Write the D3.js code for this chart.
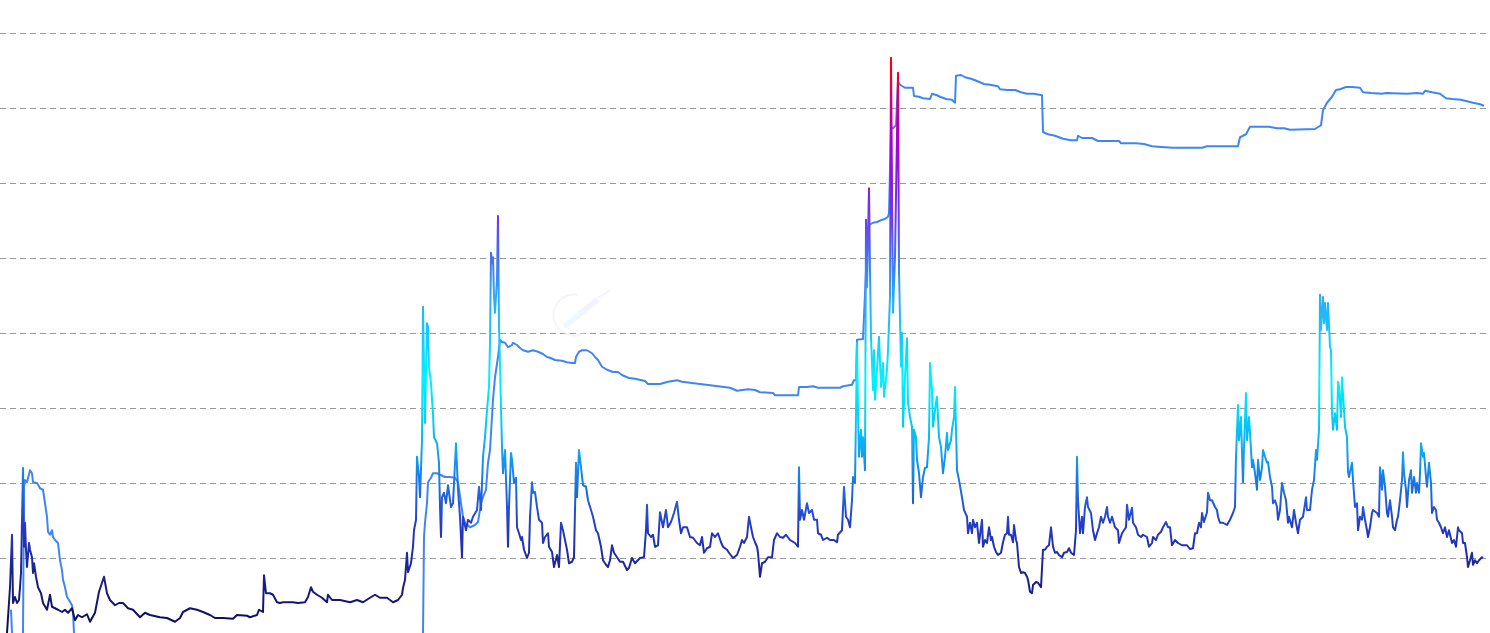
<!DOCTYPE html>
<html><head><meta charset="utf-8">
<script src="https://cdn.jsdelivr.net/npm/d3@7"></script>
<style>html,body{margin:0;padding:0;background:#fff;} svg{display:block;}</style>
</head><body>
<svg id="chart" width="1490" height="633"></svg>
<script>
// ---- data (day index, value) ----
const volatility = [[0,0],[3,6.1],[5,13.1],[6,4.0],[8,4.8],[10,4.0],[12,4.4],[13,6.1],[14,8.0],[16,22.0],[17,11.5],[18,14.7],[19,11.1],[20,8.8],[22,12.0],[23,11.1],[25,10.1],[26,8.0],[27,9.3],[29,7.5],[31,6.1],[34,5.3],[36,4.0],[40,3.1],[43,5.1],[45,3.5],[48,3.3],[51,3.1],[55,2.8],[58,3.1],[61,2.7],[65,3.3],[68,1.7],[71,2.4],[75,2.1],[80,2.5],[83,1.5],[88,2.7],[92,5.5],[97,7.5],[100,5.3],[103,4.4],[108,3.7],[112,4.0],[116,4.0],[121,3.3],[126,3.1],[133,2.1],[138,2.7],[143,2.4],[153,2.1],[160,2.0],[168,1.5],[173,2.0],[176,2.8],[183,3.3],[190,3.1],[196,2.8],[203,2.4],[208,2.0],[216,2.0],[226,1.9],[230,2.4],[240,2.3],[243,2.1],[250,2.4],[252,3.1],[256,2.8],[257,7.7],[259,5.3],[263,5.3],[266,5.1],[270,4.1],[273,4.0],[276,4.1],[281,4.1],[286,4.1],[291,4.0],[298,4.1],[301,4.8],[304,6.1],[306,5.5],[310,5.1],[315,4.7],[320,4.1],[321,5.1],[325,4.4],[333,4.4],[343,4.1],[350,4.4],[356,4.1],[363,4.7],[368,5.1],[373,4.7],[380,4.7],[386,4.1],[391,4.4],[395,5.1],[396,6.0],[398,7.1],[400,10.7],[401,8.1],[404,9.3],[406,11.5],[407,13.7],[409,15.1],[410,23.5],[412,20.8],[413,18.1],[415,25.7],[416,43.5],[418,28.0],[420,41.3],[421,40.8],[422,35.5],[424,33.3],[425,31.1],[426,29.3],[427,26.1],[430,25.3],[432,22.7],[433,16.8],[434,12.8],[435,18.1],[437,18.7],[439,17.3],[441,19.7],[444,16.8],[446,17.3],[449,25.3],[451,19.1],[453,15.5],[455,10.1],[456,15.5],[459,13.7],[461,15.1],[464,14.7],[466,15.5],[470,16.4],[472,19.5],[474,16.4],[476,23.5],[478,26.1],[480,29.7],[482,32.8],[483,38.7],[484,50.7],[485,49.3],[486,50.1],[487,44.8],[488,42.7],[490,47.1],[491,55.6],[492,40.8],[493,35.5],[494,30.1],[495,24.8],[496,21.3],[498,24.4],[500,16.8],[501,11.5],[502,16.8],[504,24.0],[505,23.1],[507,20.0],[509,20.7],[510,14.1],[512,13.3],[514,12.4],[515,12.8],[517,11.1],[520,10.0],[522,10.7],[523,15.5],[525,20.1],[526,18.7],[528,18.8],[530,16.8],[532,15.1],[535,14.7],[536,12.0],[538,12.8],[541,13.3],[542,11.5],[545,10.8],[547,8.8],[550,10.4],[552,8.8],[554,14.7],[556,13.7],[558,12.4],[560,11.1],[562,9.3],[565,9.5],[567,10.1],[569,22.7],[570,18.1],[572,24.4],[574,22.1],[576,19.7],[579,19.5],[581,17.7],[584,16.4],[586,15.5],[589,13.7],[591,13.3],[594,11.5],[596,9.7],[599,9.1],[601,8.8],[603,9.7],[605,11.7],[607,10.7],[610,10.1],[613,9.5],[616,9.5],[620,8.4],[622,8.7],[625,10.0],[628,9.3],[633,10.0],[637,10.1],[639,13.7],[640,17.1],[641,13.3],[644,12.8],[646,13.1],[648,11.5],[651,11.7],[653,16.1],[656,14.1],[659,16.4],[661,14.1],[664,14.8],[667,16.0],[670,17.5],[672,15.1],[674,13.3],[676,14.1],[680,14.1],[683,12.8],[686,12.7],[690,12.0],[693,11.7],[695,12.8],[697,10.7],[700,11.3],[703,11.5],[705,13.3],[708,12.8],[711,13.3],[714,12.1],[716,11.5],[720,11.1],[722,10.7],[726,10.0],[730,10.4],[733,11.5],[735,12.4],[737,12.0],[740,12.8],[742,15.5],[744,14.1],[746,12.8],[748,12.1],[750,11.5],[751,10.7],[753,7.5],[755,9.3],[758,9.5],[761,10.1],[765,10.1],[767,12.4],[770,13.3],[773,12.8],[776,12.7],[779,13.1],[783,12.4],[788,12.0],[791,11.5],[792,22.1],[793,15.1],[795,16.4],[797,15.1],[800,17.3],[802,16.0],[805,16.4],[807,15.1],[810,15.1],[811,13.3],[814,13.1],[816,12.4],[820,12.7],[823,12.4],[827,12.4],[830,12.1],[831,13.1],[835,13.7],[837,19.5],[839,15.5],[841,15.1],[843,14.1],[845,17.7],[846,20.8],[848,20.0],[850,38.7],[851,29.7],[852,23.5],[854,27.1],[855,23.5],[856,26.1],[858,21.7],[859,55.1],[860,46.1],[862,59.3],[863,48.4],[864,39.5],[866,32.4],[867,37.7],[868,31.1],[870,35.1],[872,39.5],[874,32.8],[876,36.0],[877,31.5],[880,35.1],[881,37.7],[883,44.8],[884,76.7],[886,42.7],[888,50.1],[891,74.7],[892,48.4],[894,35.5],[895,40.0],[896,27.5],[898,34.1],[900,39.3],[901,30.7],[903,28.8],[905,27.5],[906,17.3],[907,27.1],[909,26.1],[910,23.1],[912,21.3],[914,18.1],[916,20.8],[918,22.0],[920,22.1],[922,26.1],[923,36.0],[925,32.4],[926,27.5],[929,30.7],[930,31.5],[932,26.1],[934,24.8],[936,21.3],[938,23.5],[940,26.7],[941,24.4],[944,25.7],[945,27.1],[947,28.8],[948,32.8],[950,21.7],[952,20.4],[955,18.1],[957,16.4],[960,15.5],[961,13.3],[963,14.7],[965,13.3],[966,15.1],[968,14.1],[970,14.7],[972,12.0],[975,15.1],[976,11.5],[978,12.4],[980,12.0],[982,14.1],[984,12.4],[985,12.8],[987,11.5],[989,10.8],[991,10.4],[994,10.7],[996,12.1],[998,13.1],[1000,13.3],[1001,15.5],[1002,13.1],[1004,13.1],[1006,12.1],[1007,14.4],[1009,12.4],[1010,12.0],[1012,8.8],[1014,8.0],[1016,8.1],[1018,8.0],[1020,7.5],[1021,7.1],[1023,5.5],[1025,5.3],[1026,6.4],[1029,6.8],[1031,6.7],[1034,6.1],[1036,11.1],[1038,11.1],[1040,11.5],[1042,11.7],[1044,14.1],[1046,11.5],[1048,10.7],[1050,10.8],[1052,10.4],[1055,10.1],[1057,10.7],[1060,10.8],[1062,11.3],[1064,10.7],[1067,10.4],[1069,13.7],[1070,23.5],[1071,17.7],[1073,13.3],[1075,15.5],[1076,13.3],[1078,16.8],[1080,18.1],[1081,16.8],[1084,16.0],[1086,13.7],[1088,12.4],[1090,13.3],[1092,14.1],[1094,15.5],[1096,14.7],[1098,15.5],[1100,16.8],[1101,15.5],[1103,14.7],[1105,15.5],[1108,14.1],[1111,13.7],[1112,12.0],[1115,13.3],[1117,13.7],[1119,14.1],[1120,17.1],[1122,15.1],[1125,16.7],[1126,14.7],[1129,14.1],[1131,13.1],[1134,12.8],[1136,13.1],[1140,12.8],[1142,11.5],[1145,12.0],[1146,12.8],[1149,12.4],[1151,13.1],[1154,13.5],[1156,14.1],[1159,14.8],[1161,14.1],[1163,14.1],[1165,11.7],[1168,12.4],[1171,12.0],[1175,11.7],[1180,11.7],[1183,11.2],[1186,11.3],[1188,13.3],[1190,13.3],[1192,14.7],[1194,14.1],[1195,16.0],[1197,14.8],[1200,16.1],[1201,18.7],[1203,17.7],[1205,17.7],[1208,16.8],[1210,16.4],[1211,15.5],[1213,14.7],[1216,14.7],[1220,14.4],[1223,15.1],[1226,16.0],[1228,16.8],[1229,23.5],[1231,30.4],[1232,25.7],[1234,28.8],[1235,24.0],[1236,20.1],[1237,24.8],[1239,32.0],[1240,25.7],[1242,28.8],[1243,26.7],[1245,22.1],[1246,23.1],[1248,21.3],[1250,19.1],[1251,23.1],[1253,20.4],[1255,22.1],[1256,24.4],[1258,23.5],[1260,22.7],[1261,22.8],[1263,20.8],[1265,19.5],[1266,17.3],[1268,17.7],[1270,16.8],[1271,15.1],[1273,16.4],[1275,20.0],[1277,18.7],[1279,17.7],[1281,14.7],[1282,15.5],[1285,14.1],[1287,16.4],[1289,14.7],[1291,13.3],[1293,15.1],[1296,15.5],[1299,18.1],[1300,16.4],[1303,16.4],[1305,19.1],[1307,20.4],[1309,24.4],[1310,23.1],[1312,27.1],[1313,45.1],[1314,40.4],[1316,44.8],[1317,41.3],[1318,44.0],[1320,40.4],[1321,44.0],[1323,38.1],[1324,37.7],[1325,29.3],[1326,27.1],[1328,29.3],[1330,27.1],[1331,33.5],[1332,32.8],[1334,28.8],[1335,34.1],[1337,29.7],[1338,27.5],[1340,26.1],[1341,21.5],[1342,20.8],[1345,22.7],[1346,20.4],[1348,16.8],[1350,17.3],[1351,13.7],[1353,15.5],[1355,15.1],[1356,16.8],[1358,15.1],[1360,13.7],[1361,12.8],[1363,14.1],[1365,16.0],[1366,16.4],[1370,16.0],[1372,15.5],[1373,22.1],[1375,19.1],[1376,21.7],[1378,19.5],[1380,16.0],[1381,15.5],[1383,17.7],[1385,15.5],[1386,14.1],[1388,13.7],[1390,15.1],[1391,15.5],[1393,17.7],[1395,20.4],[1396,24.1],[1397,21.3],[1399,19.1],[1400,16.8],[1402,20.4],[1404,21.7],[1405,18.7],[1407,20.8],[1409,18.7],[1410,20.0],[1412,18.7],[1413,21.3],[1414,25.3],[1416,23.5],[1417,24.0],[1419,20.8],[1420,19.5],[1422,22.7],[1424,20.0],[1425,16.0],[1427,16.8],[1429,16.4],[1430,15.1],[1432,14.7],[1434,14.1],[1436,13.3],[1438,14.1],[1440,12.8],[1442,13.7],[1445,12.0],[1447,12.4],[1449,11.5],[1451,14.1],[1452,13.7],[1455,13.3],[1456,12.0],[1458,12.0],[1460,10.1],[1461,8.8],[1463,9.7],[1465,10.7],[1466,9.1],[1468,9.7],[1470,9.3],[1472,9.7],[1475,10.1],[1476,10.0]];

const trailing = [[4,3.1],[5,0],[6,null],[16,0],[17,19.5],[18,20.4],[20,20.1],[23,21.7],[25,21.3],[26,20.1],[30,20.0],[33,19.3],[36,19.1],[38,17.3],[40,15.5],[41,13.5],[43,13.1],[45,13.7],[46,12.8],[48,12.4],[51,12.0],[53,9.7],[55,8.4],[56,7.1],[58,6.1],[60,4.8],[62,4.4],[65,3.7],[66,2.7],[67,0],[68,null],[416,0],[417,12.8],[418,14.7],[420,17.3],[421,20.1],[424,20.7],[426,21.3],[430,21.3],[433,21.1],[438,20.8],[443,20.8],[448,20.7],[451,20.1],[454,17.3],[456,15.5],[458,14.7],[463,14.1],[468,14.4],[471,14.8],[474,17.3],[476,18.1],[479,19.1],[481,22.7],[483,24.4],[486,31.1],[488,34.1],[491,36.8],[493,39.1],[495,38.8],[498,38.7],[501,38.1],[505,38.4],[506,38.7],[510,38.4],[513,38.0],[516,37.7],[521,37.5],[526,37.7],[531,37.5],[536,37.2],[540,36.8],[543,36.7],[548,36.4],[555,36.3],[560,36.1],[565,36.0],[568,36.0],[569,36.8],[572,37.5],[575,37.7],[580,37.7],[585,37.3],[588,36.8],[591,36.4],[595,35.5],[600,35.1],[606,34.8],[611,34.8],[615,34.4],[620,34.1],[622,34.0],[628,33.9],[638,33.6],[641,33.2],[653,33.2],[661,33.5],[670,33.7],[675,33.5],[693,33.2],[711,32.9],[723,32.7],[730,32.3],[741,32.5],[748,32.4],[753,32.1],[766,32.0],[768,31.7],[791,31.7],[792,32.8],[800,32.8],[806,32.9],[811,32.7],[833,32.7],[836,32.9],[845,33.1],[847,33.7],[849,33.7],[850,39.1],[856,39.2],[861,54.3],[866,54.7],[870,54.8],[875,55.1],[878,55.2],[881,55.5],[882,56.0],[884,67.3],[886,67.3],[889,67.7],[891,73.5],[893,73.1],[898,72.7],[906,72.7],[907,71.6],[912,71.5],[916,71.3],[923,71.2],[925,71.9],[930,71.7],[933,71.5],[939,71.2],[945,71.1],[948,70.7],[949,74.3],[954,74.4],[958,74.1],[964,73.9],[970,73.6],[977,73.2],[983,73.1],[991,72.9],[993,72.5],[1000,72.4],[1008,72.4],[1014,72.1],[1020,71.9],[1027,71.9],[1035,71.7],[1036,66.8],[1041,66.5],[1048,66.3],[1056,65.9],[1064,65.7],[1070,65.7],[1071,66.3],[1075,66.0],[1085,66.0],[1091,65.6],[1100,65.6],[1112,65.6],[1114,65.3],[1129,65.3],[1137,65.2],[1145,64.9],[1154,64.8],[1166,64.7],[1195,64.7],[1200,64.9],[1231,64.9],[1233,66.1],[1239,66.5],[1243,67.5],[1262,67.5],[1270,67.3],[1277,67.3],[1283,67.1],[1308,67.2],[1314,67.7],[1316,69.7],[1320,70.7],[1325,71.5],[1329,72.4],[1333,72.5],[1339,72.8],[1345,72.8],[1353,72.7],[1356,72.1],[1364,72.0],[1375,71.9],[1379,72.0],[1400,71.9],[1410,72.0],[1416,71.9],[1418,72.3],[1425,72.1],[1433,71.9],[1439,71.3],[1445,71.2],[1454,71.1],[1460,70.9],[1466,70.7],[1473,70.5],[1477,70.3]];

const gridValues = [10, 20, 30, 40, 50, 60, 70, 80];

const colorStops = [[0,'#0b0d55'],[2,'#0e105e'],[5,'#15197a'],[8,'#1b2390'],[10.5,'#1f2ba8'],[14,'#2539c2'],[17,'#2356d6'],[20.5,'#1a7ae6'],[24.5,'#10a8f0'],[30,'#00dcfb'],[34,'#00f2ff'],[39,'#14ccfa'],[44.5,'#2aaef7'],[50,'#4472f2'],[55,'#6a3ef0'],[60.5,'#8a18e8'],[66,'#a800d0'],[71,'#d0007a'],[76.5,'#ff0000'],[84.4,'#ff0000']];

// ---- chart ----
const W = 1490, H = 633;
const svg = d3.select('#chart');
const x = d3.scaleLinear().domain([0, 1477]).range([7, 1484]);
const y = d3.scaleLinear().domain([0, 84.4]).range([H, 0]);

// gridlines
const grid = svg.append('g').attr('class', 'grid')
  .call(d3.axisLeft(y).tickValues(gridValues).tickSize(-1486).tickFormat(''));
grid.select('.domain').remove();
grid.selectAll('.tick line')
  .attr('stroke', '#9a9a9a').attr('stroke-width', 1).attr('stroke-dasharray', '6,4')
  .attr('shape-rendering', 'crispEdges');

// faint watermark
const defs = svg.append('defs');
const wm = defs.append('linearGradient').attr('id', 'wmGrad')
  .attr('x1', '0%').attr('y1', '100%').attr('x2', '100%').attr('y2', '0%');
wm.append('stop').attr('offset', '0%').attr('stop-color', '#d6f8ff');
wm.append('stop').attr('offset', '100%').attr('stop-color', '#ece4ff');
const wmG = svg.append('g').attr('opacity', 0.5);
wmG.append('path')
  .attr('d', d3.arc()({innerRadius: 19.5, outerRadius: 21.5, startAngle: 2.6, endAngle: 6.45}))
  .attr('transform', 'translate(574,315)')
  .attr('fill', '#ececec');
wmG.append('line').attr('x1', 566).attr('y1', 325).attr('x2', 596).attr('y2', 301)
  .attr('stroke', 'url(#wmGrad)').attr('stroke-width', 6).attr('stroke-linecap', 'round');
wmG.append('line').attr('x1', 599).attr('y1', 297).attr('x2', 609).attr('y2', 291)
  .attr('stroke', '#ece8f6').attr('stroke-width', 2).attr('stroke-linecap', 'round');

// gradient for the volatility line
const grad = defs.append('linearGradient').attr('id', 'volGrad')
  .attr('gradientUnits', 'userSpaceOnUse')
  .attr('x1', 0).attr('x2', 0).attr('y1', y(0)).attr('y2', y(84.4));
grad.selectAll('stop').data(colorStops).join('stop')
  .attr('offset', d => d[0] / 84.4).attr('stop-color', d => d[1]);

const line = d3.line()
  .defined(d => d[1] !== null)
  .x(d => x(d[0])).y(d => y(d[1]));

svg.append('path').datum(trailing)
  .attr('fill', 'none').attr('stroke', '#3f86f2').attr('stroke-width', 2)
  .attr('stroke-linejoin', 'round').attr('d', line);

svg.append('path').datum(volatility)
  .attr('fill', 'none').attr('stroke', 'url(#volGrad)').attr('stroke-width', 2)
  .attr('stroke-linejoin', 'round').attr('d', line);
</script>
</body></html>
